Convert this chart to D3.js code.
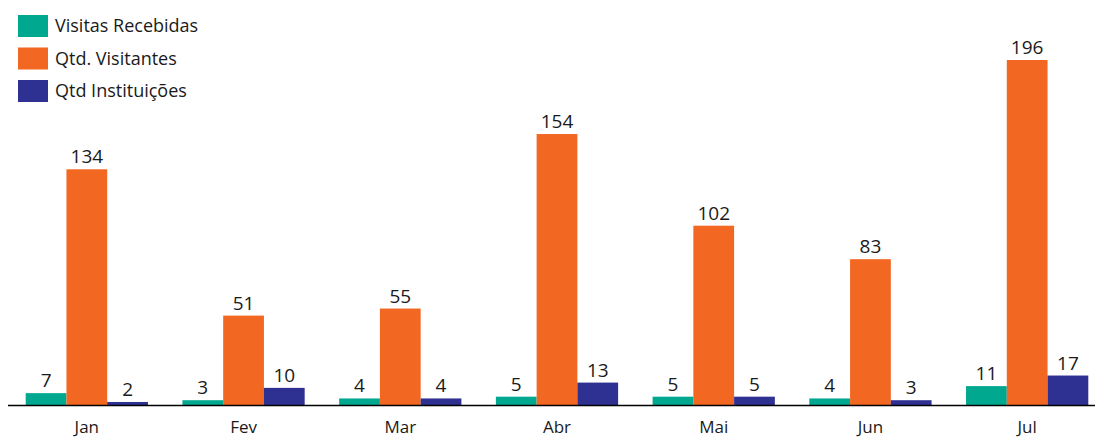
<!DOCTYPE html>
<html>
<head>
<meta charset="utf-8">
<script src="https://cdn.jsdelivr.net/npm/d3@7"></script>
<style>
  body { margin: 0; background: #fff; }
  text { font-family: "Open Sans", sans-serif; fill: #1a1a1a; }
</style>
</head>
<body>
<div id="chart"></div>
<script>
var months = ["Jan", "Fev", "Mar", "Abr", "Mai", "Jun", "Jul"]
var seriesNames = ["Visitas Recebidas", "Qtd. Visitantes", "Qtd Instituições"]
var visitasRecebidas = [7, 3, 4, 5, 5, 4, 11]
var qtdVisitantes = [134, 51, 55, 154, 102, 83, 196]
var qtdInstituicoes = [2, 10, 4, 13, 5, 3, 17]
var colors = ["#00a88f", "#f26722", "#2e3192"]

var allSeries = [visitasRecebidas, qtdVisitantes, qtdInstituicoes]

var width = 1095, height = 439
var baseline = 405.5

var svg = d3.select("#chart")
  .append("svg")
    .attr("width", width)
    .attr("height", height)

// band scale for months, inner one for the three series
var x = d3.scaleBand()
  .domain(months)
  .range([8, 1106])
  .paddingInner(0.22)
  .paddingOuter(0.113)

var xInner = d3.scaleBand()
  .domain(d3.range(seriesNames.length))
  .range([0, x.bandwidth()])

var y = d3.scaleLinear()
  .domain([0, 196])
  .range([baseline, 60])

var groups = svg.selectAll("g.month")
  .data(months)
  .enter().append("g")
    .attr("class", "month")
    .attr("transform", function(d) { return "translate(" + x(d) + ",0)" })

groups.each(function(m, i) {
  var g = d3.select(this)
  var vals = allSeries.map(function(s, k) { return {k: k, v: s[i]} })
  g.selectAll("rect")
    .data(vals)
    .enter().append("rect")
      .attr("x", function(d) { return xInner(d.k) })
      .attr("y", function(d) { return y(d.v) })
      .attr("width", xInner.bandwidth())
      .attr("height", function(d) { return baseline - y(d.v) })
      .attr("fill", function(d) { return colors[d.k] })
  g.selectAll("text.val")
    .data(vals)
    .enter().append("text")
      .attr("class", "val")
      .attr("x", function(d) { return xInner(d.k) + xInner.bandwidth() / 2 })
      .attr("y", function(d) { return y(d.v) - 6 })
      .attr("text-anchor", "middle")
      .style("font-size", "19px")
      .text(function(d) { return d.v })
})

// x axis
var xAxis = svg.append("g")
  .attr("transform", "translate(0," + baseline + ")")
  .call(d3.axisBottom(x).tickSize(0).tickPadding(15))
xAxis.select(".domain").remove()
xAxis.selectAll("text")
  .style("font-size", "17px")
  .style("font-family", "'Open Sans', sans-serif")
  .attr("fill", "#1a1a1a")
svg.append("line")
  .attr("x1", 8).attr("x2", width)
  .attr("y1", baseline).attr("y2", baseline)
  .attr("stroke", "#000")
  .attr("stroke-width", 1.3)

// legend
var legend = svg.selectAll("g.legend")
  .data(seriesNames)
  .enter().append("g")
    .attr("class", "legend")
    .attr("transform", function(d, i) { return "translate(18," + (15 + i * 32.5) + ")" })
legend.append("rect")
  .attr("width", 30)
  .attr("height", 22)
  .attr("fill", function(d, i) { return colors[i] })
legend.append("text")
  .attr("x", 37)
  .attr("y", 11)
  .attr("dy", "0.35em")
  .style("font-size", "18px")
  .text(function(d) { return d })
</script>
</body>
</html>
